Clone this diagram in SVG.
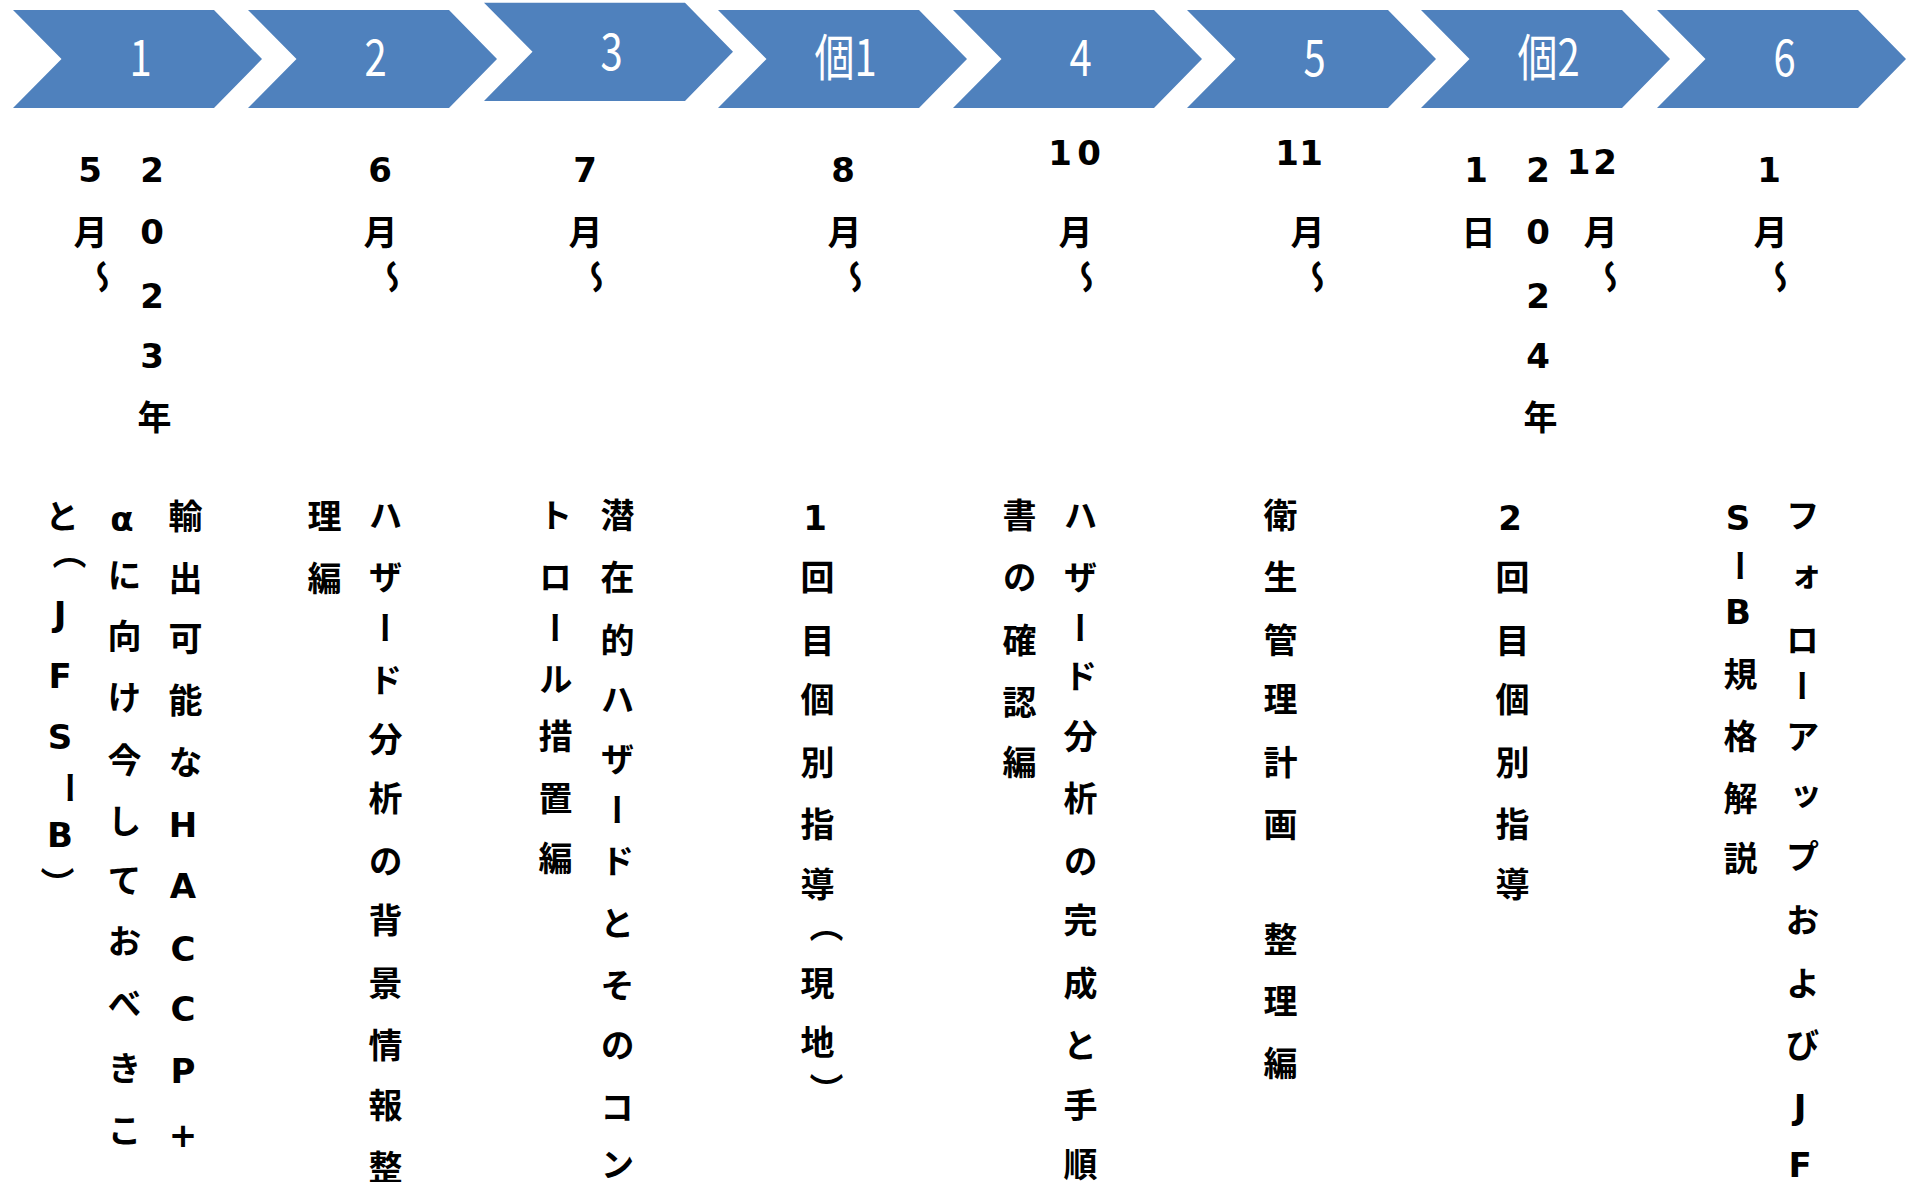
<svg xmlns="http://www.w3.org/2000/svg" width="1908" height="1182" viewBox="0 0 1908 1182">
<defs>
<style>
.chev{fill:#4F81BD;}
.lab{font-family:"Noto Sans CJK JP","Noto Sans",sans-serif;font-size:50px;fill:#FFFFFF;text-anchor:middle;}
.v{font-family:"DejaVu Sans","Noto Sans CJK JP",sans-serif;font-weight:bold;font-size:34px;fill:#000000;writing-mode:vertical-rl;text-orientation:upright;text-anchor:middle;}
</style>
</defs>
<rect width="1908" height="1182" fill="#FFFFFF"/>
<g id="connectors"/>
<g id="step-1">
<polygon class="chev" points="13,10 214,10 262,59 214,108 13,108 61.5,59"/>
<text class="lab" transform="translate(140.5 76) scale(0.8 1)">1</text>
</g>
<g id="step-2">
<polygon class="chev" points="248,10 449,10 497,59 449,108 248,108 296.5,59"/>
<text class="lab" transform="translate(375.5 76) scale(0.8 1)">2</text>
</g>
<g id="step-3">
<polygon class="chev" points="484,2.7 685,2.7 733,51.8 685,101 484,101 532.5,51.8"/>
<text class="lab" transform="translate(611.5 70) scale(0.8 1)">3</text>
</g>
<g id="step-ko1">
<polygon class="chev" points="718,10 919,10 967,59 919,108 718,108 766.5,59"/>
<text class="lab" transform="translate(845.5 76) scale(0.8 1)">個1</text>
</g>
<g id="step-4">
<polygon class="chev" points="953,10 1154,10 1202,59 1154,108 953,108 1001.5,59"/>
<text class="lab" transform="translate(1080.5 76) scale(0.8 1)">4</text>
</g>
<g id="step-5">
<polygon class="chev" points="1187,10 1388,10 1436,59 1388,108 1187,108 1235.5,59"/>
<text class="lab" transform="translate(1314.5 76) scale(0.8 1)">5</text>
</g>
<g id="step-ko2">
<polygon class="chev" points="1421,10 1622,10 1670,59 1622,108 1421,108 1469.5,59"/>
<text class="lab" transform="translate(1548.5 76) scale(0.8 1)">個2</text>
</g>
<g id="step-6">
<polygon class="chev" points="1657,10 1858,10 1906,59 1858,108 1657,108 1705.5,59"/>
<text class="lab" transform="translate(1784.5 76) scale(0.8 1)">6</text>
</g>

<g id="col-1">
<text class="v" x="152" y="170 232 296 356 417">2023年</text>
<text class="v" x="90 88 100" y="170 232 277">5月〜</text>
<text class="v" x="183" y="516.2 578.3 638.2 700.4 762.5 824.7 885.9 949 1008.9 1071 1134.6">輸出可能なHACCP+</text>
<text class="v" x="122" y="518.5 575.1 635.9 697.1 760.2 821.5 880 941.2 1003.4 1067.8 1130">αに向け今しておべきこ</text>
<text class="v" x="60 67 60 60 60 68 60 55" y="516.2 552 614.3 676.4 737.2 787.9 835.3 884">と（JFSーB）</text>
</g>
<g id="col-2">
<text class="v" x="380 378 390" y="170 232 277">6月〜</text>
<text class="v" x="383" y="515 577 628 680 738.6 798.4 860.6 920.5 982.6 1044.8 1104.6 1166.8">ハザード分析の背景情報整</text>
<text class="v" x="322" y="516 578">理編</text>
</g>
<g id="col-3">
<text class="v" x="585 583 594" y="170 232 277">7月〜</text>
<text class="v" x="615" y="515.3 577.4 639.6 699.4 759.3 810 860.6 922.8 984.9 1044.8 1107 1164.5">潜在的ハザードとそのコン</text>
<text class="v" x="553" y="515.3 577.4 628.1 678.7 736.3 798.4 858.3">トロール措置編</text>
</g>
<g id="col-ko1">
<text class="v" x="843 842 853" y="170 232 277">8月〜</text>
<text class="v" x="815 815 815 815 815 815 815 824 815 815 824" y="517.6 577.4 639.6 699.4 761.6 823.8 883.6 925.5 982.6 1042.5 1090">1回目個別指導（現地）</text>
</g>
<g id="col-4">
<text class="v" x="1060 1089 1073 1084" y="153 153 232 277">10月〜</text>
<text class="v" x="1078" y="515.3 577.4 628.1 676.4 736.3 798.4 860.6 920.5 982.6 1044.8 1104.6 1164.5">ハザード分析の完成と手順</text>
<text class="v" x="1017" y="515.3 577.4 639.6 701.7 761.6">書の確認編</text>
</g>
<g id="col-5">
<text class="v" x="1287 1311 1305 1315" y="153 153 232 277">11月〜</text>
<text class="v" x="1278" y="515.3 577.4 639.6 699.4 761.6 823.8 881 938.9 1001 1063.2">衛生管理計画　整理編</text>
</g>
<g id="col-ko2">
<text class="v" x="1578.5 1605 1598 1608" y="162 162 232 277">12月〜</text>
<text class="v" x="1538" y="170 232 296 356 417">2024年</text>
<text class="v" x="1476" y="170 232">1日</text>
<text class="v" x="1510" y="517.6 577.4 639.6 699.4 761.6 823.8 883.6">2回目個別指導</text>
</g>
<g id="col-6">
<text class="v" x="1769 1768 1778" y="170 232 277">1月〜</text>
<text class="v" x="1800" y="515.3 577.4 639.6 685.6 736.3 796.1 856 920.5 982.6 1044.8 1107 1164.5">フォローアップおよびJF</text>
<text class="v" x="1738" y="517.6 565.9 612 674.1 736.3 798.4 858.3">SーB規格解説</text>
</g>
</svg>
